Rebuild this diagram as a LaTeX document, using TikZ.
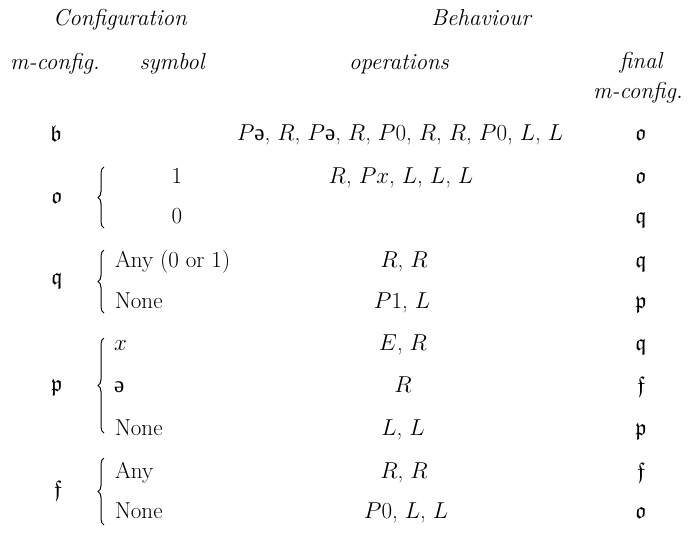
\documentclass[tikz,border=0pt]{standalone}
\usepackage{fix-cm}
\usepackage{amssymb}
\usepackage{fontspec}
\newfontfamily\schwafont{Liberation Serif}
\DeclareFontFamily{U}{euf}{}
\DeclareFontShape{U}{euf}{m}{n}{<-6>eufm5<6-8>eufm7<8->eufm10}{}
\DeclareFontShape{U}{euf}{b}{n}{<-6>eufb5<6-8>eufb7<8->eufb10}{}
\usetikzlibrary{decorations.pathreplacing}
\newcommand{\schwa}{{\schwafont ə}}
\newcommand{\fk}[1]{$\mathfrak{#1}$}
\tikzset{
  x=1pt, y=-1pt,
  every node/.style={inner sep=0pt, outer sep=0pt, font=\fontsize{23}{27}\selectfont},
  hd/.style={anchor=base, font=\fontsize{23}{27}\selectfont\itshape},
  cell/.style={anchor=base},
  symb/.style={anchor=base west},
  lbl/.style={anchor=base},
  curly/.style={decorate, decoration={brace, amplitude=6pt}, line width=1pt}
}
\begin{document}
\begin{tikzpicture}
\useasboundingbox (0,0) rectangle (700,539);
% headers
\node[hd] (hconf) at (120,25) {Configuration};
\node[hd] (hbeh) at (481,25) {Behaviour};
\node[hd] (hmc) at (55,69) {m-config.};
\node[hd] (hsym) at (172,69) {symbol};
\node[hd] (hops) at (399,69) {operations};
\node[hd] (hfin) at (641,68) {final};
\node[hd] (hfmc) at (638,98) {m-config.};
% row b
\node[lbl] (lb) at (56,141) {\fk{b}};
\node[cell] (ob) at (400,140) {$P$\schwa, $R$, $P$\schwa, $R$, $P0$, $R$, $R$, $P0$, $L$, $L$};
\node[lbl] (fb) at (641,140) {\fk{o}};
% row o
\node[lbl] (lo) at (57,203) {\fk{o}};
\node[cell] (so1) at (177,183) {1};
\node[cell] (so0) at (177,223) {0};
\node[cell] (oo1) at (401,183) {$R$, $Px$, $L$, $L$, $L$};
\node[lbl] (fo1) at (641,183) {\fk{o}};
\node[lbl] (fo0) at (641,223) {\fk{q}};
\coordinate (bo1) at (104,167);
\coordinate (bo2) at (104,228);
\draw[curly] (bo2) -- (bo1);
% row q
\node[lbl] (lq) at (57,284) {\fk{q}};
\node[symb] (sq1) at (115,267) {Any (0 or 1)};
\node[symb] (sq2) at (115,308) {None};
\node[cell] (oq1) at (404,267) {$R$, $R$};
\node[cell] (oq2) at (402,308) {$P1$, $L$};
\node[lbl] (fq1) at (641,267) {\fk{q}};
\node[lbl] (fq2) at (641,308) {\fk{p}};
\coordinate (bq1) at (104,250);
\coordinate (bq2) at (104,313);
\draw[curly] (bq2) -- (bq1);
% row p
\node[lbl] (lp) at (57,391) {\fk{p}};
\node[symb] (sp1) at (114,350) {$x$};
\node[symb] (sp2) at (114,392) {\schwa};
\node[symb] (sp3) at (115,435) {None};
\node[cell] (op1) at (403,350) {$E$, $R$};
\node[cell] (op2) at (403,392) {$R$};
\node[cell] (op3) at (403,435) {$L$, $L$};
\node[lbl] (fp1) at (641,350) {\fk{q}};
\node[lbl] (fp2) at (641,392) {\fk{f}};
\node[lbl] (fp3) at (641,435) {\fk{p}};
\coordinate (bp1) at (104,338);
\coordinate (bp2) at (104,433);
\draw[curly] (bp2) -- (bp1);
% row f
\node[lbl] (lf) at (58,496) {\fk{f}};
\node[symb] (sf1) at (115,478) {Any};
\node[symb] (sf2) at (115,518) {None};
\node[cell] (of1) at (404,478) {$R$, $R$};
\node[cell] (of2) at (406,518) {$P0$, $L$, $L$};
\node[lbl] (ff1) at (641,478) {\fk{f}};
\node[lbl] (ff2) at (641,518) {\fk{o}};
\coordinate (bf1) at (104,458);
\coordinate (bf2) at (104,525);
\draw[curly] (bf2) -- (bf1);
\end{tikzpicture}
\end{document}
